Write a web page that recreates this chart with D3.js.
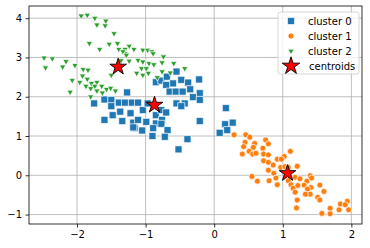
<!DOCTYPE html>
<html>
<head>
<meta charset="utf-8">
<script src="https://cdn.jsdelivr.net/npm/d3@7"></script>
<style>
  body { margin: 0; background: #fff; }
  svg { display: block; font-family: "DejaVu Sans", sans-serif; }
</style>
</head>
<body>
<svg width="370" height="248"></svg>
<script>
// cluster 0 points [x, y]
const cluster0 = [
  [-1.27, 2.11], [-1.75, 1.83], [-1.60, 1.93], [-1.50, 1.92], [-1.50, 1.76], [-1.39, 1.85],
  [-1.30, 1.85], [-1.20, 1.85], [-1.11, 1.85], [-1.48, 1.53], [-1.37, 1.62], [-1.22, 1.58],
  [-1.34, 1.38], [-1.60, 1.41], [-1.18, 1.34], [-1.11, 1.41], [-1.04, 1.66], [-0.99, 1.36],
  [-1.16, 1.20], [-1.05, 1.14], [-0.90, 1.00], [-0.85, 1.32], [-0.85, 1.53], [-0.85, 2.37],
  [-0.77, 2.41], [-0.97, 1.83], [-0.77, 1.66], [-0.76, 1.41], [-0.89, 1.20], [-0.69, 2.51],
  [-0.55, 2.64], [-0.60, 2.34], [-0.70, 2.30], [-0.48, 2.43], [-0.38, 2.36], [-0.22, 2.44],
  [-0.65, 2.13], [-0.56, 2.13], [-0.46, 2.13], [-0.35, 2.19], [-0.21, 2.09], [-0.31, 1.99],
  [-0.21, 1.92], [-0.43, 1.83], [-0.55, 1.83], [-0.48, 1.76], [-0.70, 1.60], [-0.21, 1.38],
  [-0.77, 1.31], [-0.68, 1.15], [-0.72, 0.98], [-0.39, 0.92], [-0.52, 0.66], [0.17, 1.71],
  [0.16, 1.30], [0.27, 1.34], [0.19, 1.15], [0.08, 1.08], [-1.18, 1.22]
];
// cluster 1 points
const cluster1 = [
  [0.29, 1.03], [0.46, 1.03], [0.52, 0.97], [0.45, 0.84], [0.59, 0.81], [0.75, 0.90],
  [0.79, 0.80], [0.43, 0.73], [0.57, 0.71], [0.71, 0.69], [0.51, 0.61], [0.41, 0.54],
  [0.56, 0.54], [0.61, 0.56], [0.72, 0.54], [0.79, 0.52], [1.11, 0.61], [1.02, 0.48],
  [0.92, 0.41], [0.98, 0.41], [0.72, 0.37], [0.79, 0.33], [0.86, 0.26], [0.97, 0.20],
  [1.03, 0.22], [0.79, 0.13], [0.87, 0.05], [1.21, 0.23], [0.55, -0.03], [0.63, -0.15],
  [0.80, -0.14], [0.90, -0.07], [0.92, -0.24], [1.08, -0.14], [1.18, -0.05], [1.25, -0.09],
  [1.12, -0.24], [1.22, -0.26], [1.15, -0.33], [1.40, -0.01], [1.42, -0.07], [1.35, -0.15],
  [1.31, -0.25], [1.41, -0.31], [1.54, -0.25], [1.36, -0.35], [1.40, -0.48], [1.33, -0.48],
  [1.18, -0.43], [1.60, -0.41], [1.51, -0.56], [1.54, -0.63], [1.21, -0.63], [1.20, -0.83],
  [1.69, -0.84], [1.57, -0.97], [1.69, -0.98], [1.82, -0.88], [1.84, -0.73], [1.94, -0.66],
  [1.91, -0.75], [1.96, -0.88], [1.08, 0.20]
];
// cluster 2 points
const cluster2 = [
  [-1.94, 4.06], [-1.85, 4.08], [-1.74, 4.00], [-1.71, 3.83], [-1.58, 3.93], [-1.59, 3.81],
  [-1.46, 3.61], [-1.82, 3.36], [-1.67, 3.21], [-1.53, 3.34], [-1.41, 3.36], [-1.39, 3.21],
  [-1.24, 3.29], [-1.17, 3.21], [-1.30, 3.21], [-1.30, 3.10], [-1.04, 3.19], [-0.97, 3.19],
  [-0.91, 3.15], [-2.48, 2.99], [-2.36, 2.97], [-2.46, 2.74], [-2.16, 2.90], [-2.21, 2.76],
  [-2.03, 2.80], [-1.91, 2.70], [-1.84, 2.68], [-1.92, 2.53], [-2.07, 2.42], [-1.96, 2.37],
  [-1.85, 2.45], [-1.79, 2.34], [-1.71, 2.37], [-2.10, 2.12], [-1.87, 2.27], [-1.80, 2.21],
  [-1.74, 2.27], [-1.64, 2.27], [-1.57, 2.19], [-1.51, 2.22], [-1.44, 2.15], [-1.71, 2.15],
  [-1.80, 2.00], [-1.63, 2.10], [-1.50, 2.55], [-1.36, 2.92], [-1.24, 2.91], [-1.11, 2.93],
  [-1.04, 2.89], [-1.13, 2.60], [-1.06, 2.72], [-0.99, 2.72], [-0.95, 2.85], [-0.88, 2.82],
  [-0.96, 2.60], [-1.04, 2.55], [-0.83, 2.49], [-0.76, 2.64], [-0.74, 3.02], [-0.76, 2.87],
  [-0.64, 2.61], [-0.59, 2.85], [-0.89, 3.10], [-1.33, 3.15], [-1.28, 3.06], [-0.43, 2.72]
];
const centroids = [[-0.87, 1.79], [1.07, 0.05], [-1.40, 2.76]];

const xTicks = [-2, -1, 0, 1, 2];
const yTicks = [-1, 0, 1, 2, 3, 4];
const labels = ['cluster 0', 'cluster 1', 'cluster 2', 'centroids'];
const colors = ['#1f77b4', '#ff7f0e', '#2ca02c'];

const svg = d3.select('svg');
const margin = { left: 29, right: 8, top: 6, bottom: 24 };
const W = 370, H = 248;

const x = d3.scaleLinear().domain([-2.7, 2.155]).range([margin.left, W - margin.right]);
const y = d3.scaleLinear().domain([-1.24, 4.31]).range([H - margin.bottom, margin.top]);

// grid
svg.append('g')
  .selectAll('line')
  .data(xTicks)
  .join('line')
  .attr('x1', d => x(d)).attr('x2', d => x(d))
  .attr('y1', margin.top).attr('y2', H - margin.bottom)
  .style('stroke', '#b0b0b0').style('stroke-width', 0.8);
svg.append('g')
  .selectAll('line')
  .data(yTicks)
  .join('line')
  .attr('y1', d => y(d)).attr('y2', d => y(d))
  .attr('x1', margin.left).attr('x2', W - margin.right)
  .style('stroke', '#b0b0b0').style('stroke-width', 0.8);

const fmt = d => d < 0 ? '\u2212' + Math.abs(d) : String(d);

// axes
const xAxis = svg.append('g')
  .attr('transform', `translate(0,${H - margin.bottom})`)
  .call(d3.axisBottom(x).tickValues(xTicks).tickFormat(fmt).tickSize(3.5).tickPadding(3.5));
const yAxis = svg.append('g')
  .attr('transform', `translate(${margin.left},0)`)
  .call(d3.axisLeft(y).tickValues(yTicks).tickFormat(fmt).tickSize(3.5).tickPadding(3.5));
[xAxis, yAxis].forEach(g => {
  g.select('.domain').remove();
  g.selectAll('line').style('stroke', '#000').style('stroke-width', 0.8);
  g.selectAll('text').style('font-size', '10px').style('fill', '#000')
    .style('font-family', '"DejaVu Sans", sans-serif');
});

// points
const shapes = [
  d3.symbol().type(d3.symbolSquare).size(50),
  d3.symbol().type(d3.symbolCircle).size(28),
  d3.symbol().type(d3.symbolTriangle).size(17)
];
[cluster0, cluster1, cluster2].forEach((pts, i) => {
  svg.append('g')
    .selectAll('path')
    .data(pts)
    .join('path')
    .attr('d', shapes[i])
    .attr('transform', d => `translate(${x(d[0])},${y(d[1])})` + (i === 2 ? ' rotate(180)' : ''))
    .style('fill', colors[i])
    .style('stroke', '#fff')
    .style('stroke-width', 0.7);
});

// centroids
const star = d3.symbol().type(d3.symbolStar).size(85);
svg.append('g')
  .selectAll('path')
  .data(centroids)
  .join('path')
  .attr('d', star)
  .attr('transform', d => `translate(${x(d[0])},${y(d[1])})`)
  .style('fill', 'red')
  .style('stroke', '#000')
  .style('stroke-width', 0.9);

// frame
svg.append('rect')
  .attr('x', margin.left).attr('y', margin.top)
  .attr('width', W - margin.left - margin.right)
  .attr('height', H - margin.top - margin.bottom)
  .style('fill', 'none').style('stroke', '#000').style('stroke-width', 0.8);

// legend
const leg = svg.append('g').attr('transform', 'translate(278,12)');
leg.append('rect')
  .attr('width', 81).attr('height', 62).attr('rx', 2.5)
  .style('fill', '#fff').style('fill-opacity', 0.8)
  .style('stroke', '#cccccc').style('stroke-width', 0.8);
const rows = leg.selectAll('g.row')
  .data(labels)
  .join('g')
  .attr('class', 'row')
  .attr('transform', (d, i) => `translate(13,${9 + i * 15})`);
rows.append('path')
  .attr('d', (d, i) => i < 3 ? shapes[i]() : d3.symbol().type(d3.symbolStar).size(95)())
  .attr('transform', (d, i) => i === 2 ? 'rotate(180)' : null)
  .style('fill', (d, i) => i < 3 ? colors[i] : 'red')
  .style('stroke', (d, i) => i < 3 ? '#fff' : '#000')
  .style('stroke-width', (d, i) => i < 3 ? 0.7 : 0.9);
rows.append('text')
  .attr('x', (d, i) => i < 3 ? 17 : 18)
  .attr('y', 3.5)
  .text(d => d)
  .style('font-size', '10px')
  .style('fill', '#000');
</script>
</body>
</html>
